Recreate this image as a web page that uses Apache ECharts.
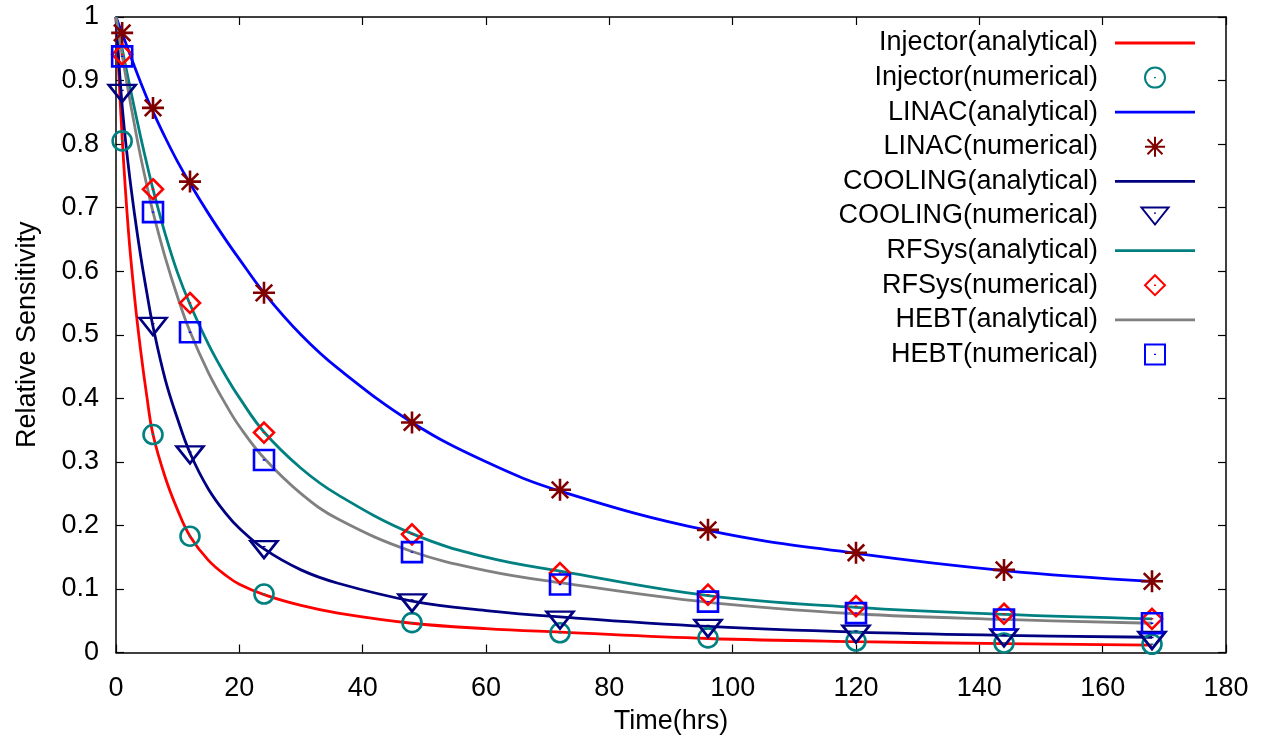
<!DOCTYPE html>
<html>
<head>
<meta charset="utf-8">
<script src="https://cdn.jsdelivr.net/npm/echarts@6/dist/echarts.min.js"></script>
<style>
html,body{margin:0;padding:0;background:#fff;}
#chart{width:1271px;height:740px;}
</style>
</head>
<body>
<div id="chart"></div>
<script>
// ---- data ----
const X_TICKS = [0, 20, 40, 60, 80, 100, 120, 140, 160, 180];
const Y_TICKS = [0, 0.1, 0.2, 0.3, 0.4, 0.5, 0.6, 0.7, 0.8, 0.9, 1];

// analytical curves (sampled times, hrs)
const T_ANALYTICAL = [0, 1, 2, 3, 4, 5, 6, 8, 10, 12, 15, 18, 20, 24, 30, 36, 48, 60, 72, 96, 120, 144, 168];
const INJECTOR_ANALYTICAL = [1, 0.81, 0.665, 0.56, 0.475, 0.403, 0.343, 0.275, 0.224, 0.183, 0.145, 0.120, 0.1075, 0.091, 0.074, 0.062, 0.046, 0.0375, 0.032, 0.022, 0.017, 0.014, 0.0115];
const LINAC_ANALYTICAL = [1, 0.974, 0.948, 0.922, 0.897, 0.873, 0.851, 0.81, 0.772, 0.738, 0.6906, 0.6465, 0.619, 0.566, 0.50, 0.447, 0.362, 0.30, 0.254, 0.192, 0.156, 0.129, 0.112];
const COOLING_ANALYTICAL = [1, 0.86, 0.766, 0.69, 0.624, 0.566, 0.513, 0.429, 0.367, 0.314, 0.257, 0.2165, 0.1955, 0.163, 0.13, 0.109, 0.081, 0.066, 0.056, 0.041, 0.032, 0.027, 0.024];
const RFSYS_ANALYTICAL = [1, 0.95, 0.902, 0.856, 0.811, 0.769, 0.729, 0.658, 0.597, 0.548, 0.485, 0.432, 0.401, 0.347, 0.29, 0.248, 0.187, 0.150, 0.128, 0.0895, 0.071, 0.060, 0.053];
const HEBT_ANALYTICAL = [1, 0.94, 0.883, 0.83, 0.78, 0.735, 0.693, 0.621, 0.559, 0.505, 0.44, 0.387, 0.356, 0.306, 0.25, 0.21, 0.159, 0.129, 0.11, 0.079, 0.061, 0.052, 0.046];

// numerical points
const T_NUMERICAL = [1, 6, 12, 24, 48, 72, 96, 120, 144, 168];
const INJECTOR_NUMERICAL = [0.805, 0.343, 0.183, 0.092, 0.047, 0.031, 0.023, 0.018, 0.015, 0.013];
const LINAC_NUMERICAL = [0.975, 0.857, 0.741, 0.566, 0.362, 0.256, 0.193, 0.157, 0.130, 0.112];
const COOLING_NUMERICAL = [0.88, 0.513, 0.311, 0.162, 0.078, 0.051, 0.038, 0.029, 0.023, 0.019];
const RFSYS_NUMERICAL = [0.941, 0.729, 0.550, 0.346, 0.186, 0.125, 0.091, 0.073, 0.061, 0.053];
const HEBT_NUMERICAL = [0.938, 0.693, 0.504, 0.303, 0.158, 0.107, 0.080, 0.062, 0.052, 0.046];

const NAMES = [
  'Injector(analytical)', 'Injector(numerical)',
  'LINAC(analytical)', 'LINAC(numerical)',
  'COOLING(analytical)', 'COOLING(numerical)',
  'RFSys(analytical)', 'RFSys(numerical)',
  'HEBT(analytical)', 'HEBT(numerical)'
];

// ---- styling ----
const FONT = 'Liberation Sans, Arial, Helvetica, sans-serif';
const FS = 27;
const SYM = {
  circle: 'path://M-10,-10M10,10M-10,0A10,10,0,1,1,10,0A10,10,0,1,1,-10,0ZM0,-0.7L0,0.7',
  star: 'path://M0,-10L0,10M-10,0L10,0M-7.5,-7.5L7.5,7.5M-7.5,7.5L7.5,-7.5',
  triangle: 'path://M-13.5,-10M13.5,10M-13.5,-8.5L13.5,-8.5L0,8.5ZM0,-3.6L0,-2.2',
  diamond: 'path://M0,-10L10,0L0,10L-10,0ZM0,-0.7L0,0.7',
  square: 'path://M-10,-10L10,-10L10,10L-10,10ZM0,-0.7L0,0.7'
};
const LINE_ICON = 'path://M0,0L80,0L80,2.8L0,2.8Z';

function pairs(t, v) { return t.map((x, i) => [x, v[i]]); }

function lineSeries(name, vals, color) {
  return {
    name: name, type: 'line', data: pairs(T_ANALYTICAL, vals),
    smooth: 0.4, symbol: 'none', showSymbol: false,
    lineStyle: { color: color, width: 2.8 }, itemStyle: { color: color },
    animation: false, z: 2
  };
}
function pointSeries(name, vals, color, sym, size) {
  return {
    name: name, type: 'scatter', data: pairs(T_NUMERICAL, vals),
    symbol: sym, symbolSize: size,
    itemStyle: { color: 'rgba(0,0,0,0)', borderColor: color, borderWidth: 2.6, opacity: 1 },
    animation: false, z: 3
  };
}

const series = [
  lineSeries(NAMES[0], INJECTOR_ANALYTICAL, '#ff0000'),
  pointSeries(NAMES[1], INJECTOR_NUMERICAL, '#008080', SYM.circle, [19, 19]),
  lineSeries(NAMES[2], LINAC_ANALYTICAL, '#0000ff'),
  pointSeries(NAMES[3], LINAC_NUMERICAL, '#800000', SYM.star, [22, 22]),
  lineSeries(NAMES[4], COOLING_ANALYTICAL, '#000080'),
  pointSeries(NAMES[5], COOLING_NUMERICAL, '#000080', SYM.triangle, [27, 20]),
  lineSeries(NAMES[6], RFSYS_ANALYTICAL, '#008080'),
  pointSeries(NAMES[7], RFSYS_NUMERICAL, '#ff0000', SYM.diamond, [20, 20]),
  lineSeries(NAMES[8], HEBT_ANALYTICAL, '#808080'),
  pointSeries(NAMES[9], HEBT_NUMERICAL, '#0000ff', SYM.square, [20, 20])
];

const legendData = NAMES.map((n, i) => (i % 2 === 0 ? { name: n, icon: LINE_ICON } : { name: n }));

const axisLine = { show: true, onZero: false, lineStyle: { color: '#000', width: 1.5 } };
const axisTick = { show: true, inside: true, length: 8, lineStyle: { color: '#000', width: 1.2 } };

const chart = echarts.init(document.getElementById('chart'), null, { renderer: 'canvas' });
chart.setOption({
  backgroundColor: '#ffffff',
  animation: false,
  textStyle: { fontFamily: FONT },
  grid: { left: 116, right: 45, top: 17, bottom: 87, containLabel: false },
  legend: {
    data: legendData, orient: 'vertical', align: 'right',
    right: 76, top: 29.5, padding: 0,
    itemWidth: 80, itemHeight: 20, itemGap: 7.6,
    textStyle: { fontSize: FS, color: '#000', fontFamily: FONT, padding: [0, 12, 0, 0] },
    selectedMode: false
  },
  xAxis: [{
    type: 'value', min: X_TICKS[0], max: X_TICKS[X_TICKS.length - 1], interval: X_TICKS[1] - X_TICKS[0],
    position: 'bottom', name: 'Time(hrs)', nameLocation: 'middle', nameGap: 55.5,
    nameTextStyle: { fontSize: FS, color: '#000', fontFamily: FONT },
    axisLine: axisLine, axisTick: axisTick, splitLine: { show: false },
    axisLabel: { fontSize: FS, color: '#000', margin: 22.5, fontFamily: FONT }
  }, {
    type: 'value', min: X_TICKS[0], max: X_TICKS[X_TICKS.length - 1], interval: X_TICKS[1] - X_TICKS[0],
    position: 'top', axisLine: axisLine, axisTick: axisTick, splitLine: { show: false },
    axisLabel: { show: false }
  }],
  yAxis: [{
    type: 'value', min: Y_TICKS[0], max: Y_TICKS[Y_TICKS.length - 1], interval: 0.1,
    position: 'left', name: 'Relative Sensitivity', nameLocation: 'middle', nameGap: 74.5,
    nameTextStyle: { fontSize: FS, color: '#000', fontFamily: FONT },
    axisLine: axisLine, axisTick: axisTick, splitLine: { show: false },
    axisLabel: { fontSize: FS, color: '#000', margin: 17, fontFamily: FONT }
  }, {
    type: 'value', min: Y_TICKS[0], max: Y_TICKS[Y_TICKS.length - 1], interval: 0.1,
    position: 'right', axisLine: axisLine, axisTick: axisTick, splitLine: { show: false },
    axisLabel: { show: false }
  }],
  series: series
});
</script>
</body>
</html>
